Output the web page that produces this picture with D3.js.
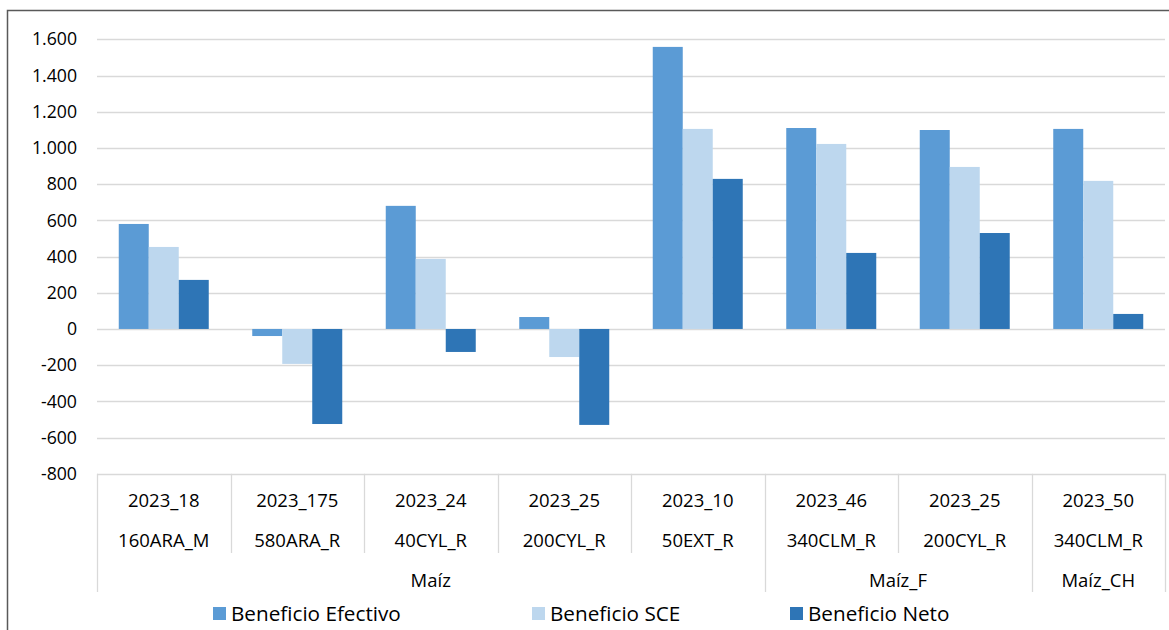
<!DOCTYPE html>
<html><head><meta charset="utf-8">
<script src="https://cdn.jsdelivr.net/npm/d3@7"></script>
<style>body{margin:0;background:#fff}svg{display:block}text{font-family:"Open Sans",Arial,sans-serif;fill:#000}</style>
</head><body><svg id="c" width="1169" height="630"></svg>
<script>
const years = ["2023_18","2023_175","2023_24","2023_25","2023_10","2023_46","2023_25","2023_50"];
const codes = ["160ARA_M","580ARA_R","40CYL_R","200CYL_R","50EXT_R","340CLM_R","200CYL_R","340CLM_R"];
const groups = [{name:"Maíz",start:0,end:5},{name:"Maíz_F",start:5,end:7},{name:"Maíz_CH",start:7,end:8}];
const seriesNames = ["Beneficio Efectivo","Beneficio SCE","Beneficio Neto"];
const efectivo = [580,-39,680,66,1558,1110,1099,1105];
const sce = [453,-193,387,-155,1105,1022,895,818];
const neto = [271,-525,-127,-530,829,420,530,83];
const yTicks = [-800,-600,-400,-200,0,200,400,600,800,1000,1200,1400,1600];
const colors = ["#5b9bd5","#bdd7ee","#2e75b6"];
const seriesValues = [efectivo, sce, neto];

const svg = d3.select("#c");
const pLeft = 97, pRight = 1165, pTop = 39.3, pBottom = 473.8;
const idx = d3.range(years.length);
const x0 = d3.scaleBand().domain(idx).range([pLeft, pRight]).paddingInner(0).paddingOuter(0);
const x1 = d3.scaleBand().domain(d3.range(3)).range([0, x0.bandwidth()]).paddingInner(0).paddingOuter(0.725);
const y = d3.scaleLinear().domain([-800,1600]).range([pBottom, pTop]);
const loc = d3.formatLocale({decimal:",",thousands:".",grouping:[3],currency:["","€"],minus:"-"});
const fmt = loc.format(",d");

// outer border
svg.append("rect").attr("x",7.5).attr("y",10.5).attr("width",1170).attr("height",630).attr("fill","none").attr("stroke","#595959").attr("stroke-width",1.5);

// gridlines
svg.append("g").selectAll("line").data(yTicks).join("line")
  .attr("x1",pLeft).attr("x2",pRight).attr("y1",d=>Math.round(y(d))+0.5).attr("y2",d=>Math.round(y(d))+0.5)
  .attr("stroke","#d9d9d9").attr("stroke-width",1.3);

// y labels
const yAxis = d3.axisLeft(y).tickValues(yTicks).tickFormat(fmt).tickSize(0).tickPadding(0);
const ya = svg.append("g").attr("transform",`translate(77,0)`).call(yAxis);
ya.select(".domain").remove();
ya.selectAll("text").attr("font-size",17.7).attr("font-family","Open Sans, Arial, sans-serif").attr("fill","#000");

// bars
const g = svg.append("g");
seriesValues.forEach((vals,s)=>{
  g.append("g").selectAll("rect").data(idx).join("rect")
    .attr("x",i=>x0(i)+x1(s))
    .attr("width",x1.bandwidth())
    .attr("y",i=>y(Math.max(0,vals[i])))
    .attr("height",i=>Math.abs(y(vals[i])-y(0)))
    .attr("fill",colors[s]);
});

// category axis box
const ax = svg.append("g").attr("stroke","#d9d9d9").attr("stroke-width",1.3);
const row2 = 553, row3 = 592;
idx.slice(1).forEach(i=>{
  const xx = Math.round(x0(i))+0.5;
  const isGroup = groups.some(gr=>gr.start===i);
  ax.append("line").attr("x1",xx).attr("x2",xx).attr("y1",pBottom).attr("y2",isGroup?row3:row2);
});
[pLeft, pRight].forEach(xx=>ax.append("line").attr("x1",xx+0.5).attr("x2",xx+0.5).attr("y1",pBottom).attr("y2",row3));

const lab = svg.append("g").attr("font-size",18.5).attr("text-anchor","middle");
idx.forEach(i=>{
  const cx = x0(i)+x0.bandwidth()/2;
  lab.append("text").attr("x",cx).attr("y",507).text(years[i]);
  lab.append("text").attr("x",cx).attr("y",547).text(codes[i]);
});
groups.forEach(gr=>{
  const cx = (x0(gr.start)+x0(gr.end-1)+x0.bandwidth())/2;
  lab.append("text").attr("x",cx).attr("y",587).text(gr.name);
});

// legend
const legX = [213,532,790];
const leg = svg.append("g");
seriesNames.forEach((n,s)=>{
  leg.append("rect").attr("x",legX[s]).attr("y",607).attr("width",13).attr("height",13).attr("fill",colors[s]);
  leg.append("text").attr("x",legX[s]+18).attr("y",621).attr("font-size",20.7).text(n);
});
</script></body></html>
